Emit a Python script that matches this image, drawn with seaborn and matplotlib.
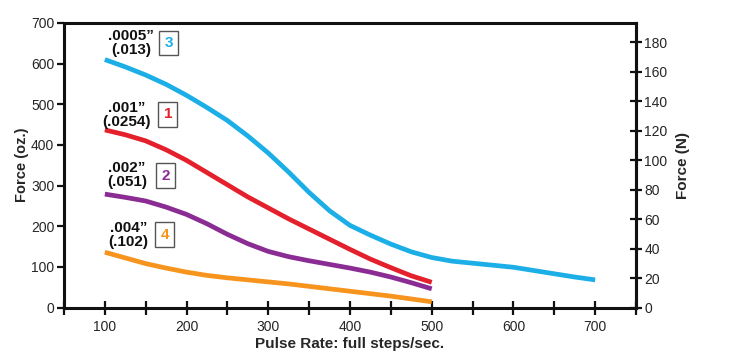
import matplotlib
matplotlib.use("Agg")
import matplotlib.pyplot as plt
import seaborn as sns
import pandas as pd
from matplotlib.ticker import MultipleLocator

# ---- data ----
pulse_rate_long = [100, 125, 150, 175, 200, 225, 250, 275, 300, 325, 350, 375, 400,
                   425, 450, 475, 500, 525, 550, 575, 600, 625, 650, 675, 700]
pulse_rate_short = [100, 125, 150, 175, 200, 225, 250, 275, 300, 325, 350, 375, 400,
                    425, 450, 475, 500]
force_3 = [610, 592, 572, 549, 522, 492, 460, 422, 380, 333, 283, 238, 202,
           178, 156, 137, 123, 114, 109, 104, 99, 91, 83, 75, 68]          # .0005" (.013)
force_1 = [437, 425, 410, 388, 362, 332, 302, 272, 245, 218, 193, 168, 143,
           119, 98, 78, 62]                                                   # .001" (.0254)
force_2 = [279, 271, 262, 247, 229, 206, 180, 157, 138, 125, 115, 106, 97,
           87, 75, 61, 46]                                                    # .002" (.051)
force_4 = [136, 122, 108, 97, 87, 79, 73, 68, 63, 58, 52, 46, 40,
           34, 28, 21, 14]                                                    # .004" (.102)

series_names = ["3", "1", "2", "4"]
series_labels = [".0005\u201d\n(.013)", ".001\u201d\n(.0254)", ".002\u201d\n(.051)", ".004\u201d\n(.102)"]
series_colors = ["#1CAEE6", "#E3202B", "#8A2C93", "#F7941E"]
label_pos = [(132, 650), (127, 474), (127, 326), (129, 179)]
box_pos = [(178, 651), (177, 475), (174, 324), (173, 179)]

x_ticks = [100, 200, 300, 400, 500, 600, 700]
left_ticks = [0, 100, 200, 300, 400, 500, 600, 700]
right_ticks = [0, 20, 40, 60, 80, 100, 120, 140, 160, 180]

frames = []
for name, xs, ys in [("3", pulse_rate_long, force_3), ("1", pulse_rate_short, force_1),
                     ("2", pulse_rate_short, force_2), ("4", pulse_rate_short, force_4)]:
    frames.append(pd.DataFrame({"rate": xs, "force": ys, "series": name}))
df = pd.concat(frames, ignore_index=True)

sns.set_style("ticks")
plt.rcParams["font.family"] = ["Liberation Sans", "DejaVu Sans"]

fig = plt.figure(figsize=(7.29, 3.60), dpi=100)
ax = fig.add_axes([64 / 729, 1 - 307.5 / 360, (636 - 64) / 729, (307.5 - 23) / 360])

sns.lineplot(data=df, x="rate", y="force", hue="series", hue_order=series_names,
             palette=dict(zip(series_names, series_colors)), linewidth=3.4,
             legend=False, ax=ax, sort=True)
for line in ax.get_lines():
    line.set_solid_capstyle("butt")
    line.set_solid_joinstyle("round")

ax.set_xlim(50, 750)
ax.set_ylim(0, 700)
ax.set_xticks(x_ticks)
ax.xaxis.set_minor_locator(MultipleLocator(50))
ax.set_yticks(left_ticks)
ax.tick_params(axis="x", which="both", direction="inout", length=10, width=1.6,
               labelsize=10, pad=4, color="#111111")
ax.tick_params(axis="y", direction="out", length=5, width=1.6, labelsize=10, pad=2,
               color="#111111")
ax.set_xlabel("Pulse Rate: full steps/sec.", fontsize=11, fontweight="bold", labelpad=2)
ax.set_ylabel("Force (oz.)", fontsize=10.5, fontweight="bold", labelpad=1.5)

for s in ["left", "bottom", "top", "right"]:
    ax.spines[s].set_visible(True)
    ax.spines[s].set_linewidth(2.2)
    ax.spines[s].set_color("#111111")

ax2 = ax.twinx()
ax2.set_ylim(0, 193)
ax2.set_yticks(right_ticks)
ax2.tick_params(axis="y", direction="inout", length=8, width=1.6, labelsize=10, pad=2,
                color="#111111")
for s in ["left", "bottom", "top"]:
    ax2.spines[s].set_visible(False)
ax2.spines["right"].set_linewidth(2.2)
ax2.spines["right"].set_color("#111111")
ax2.set_ylabel("Force (N)", fontsize=11, fontweight="bold", labelpad=6)

for lab, (tx, ty), (bx, by), name, col in zip(series_labels, label_pos, box_pos,
                                              series_names, series_colors):
    ax.text(tx, ty, lab, ha="center", va="center", multialignment="center",
            fontsize=11, fontweight="bold", color="#111111", linespacing=1.0)
    ax.text(bx, by, name, ha="center", va="center", fontsize=11, fontweight="bold",
            color=col, bbox=dict(boxstyle="square,pad=0.35", fc="white", ec="#555555", lw=1))

fig.savefig("out.png", dpi=100)
